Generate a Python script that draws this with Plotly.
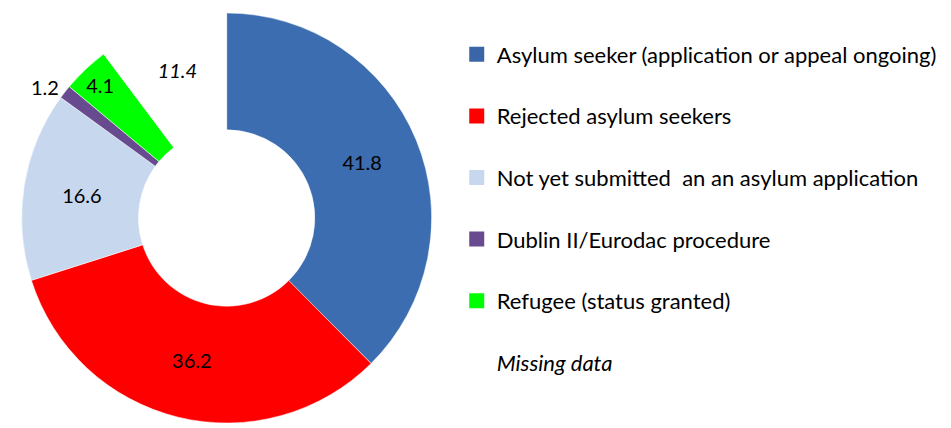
import plotly.graph_objects as go

# --- DATA ---
categories = [
    "Asylum seeker (application or appeal ongoing)",
    "Rejected asylum seekers",
    "Not yet submitted  an an asylum application",
    "Dublin II/Eurodac procedure",
    "Refugee (status granted)",
    "Missing data",
]
values = [41.8, 36.2, 16.6, 1.2, 4.1, 11.4]
slice_labels = ["41.8", "36.2", "16.6", "1.2", "4.1", "<i>11.4</i>"]

colors = ["#3b6db0", "#ff0000", "#c6d7ee", "#684b8e", "#00ff00", "rgba(0,0,0,0)"]
legend_colors = ["#3a66a8", "#ff0000", "#c6d7ee", "#684b8e", "#00ff00", "rgba(0,0,0,0)"]
text_pos = ["inside", "inside", "inside", "outside", "inside", "inside"]

FONT = "Lato"

# page body has an 8px margin, so the figure is sized to fit inside the window
W, H = 943, 420

fig = go.Figure()

fig.add_trace(go.Pie(
    labels=categories,
    values=values,
    text=slice_labels,
    textinfo="text",
    textposition=text_pos,
    insidetextorientation="horizontal",
    hole=0.43,
    sort=False,
    direction="clockwise",
    rotation=0,
    marker=dict(colors=colors, line=dict(color="white", width=0.5)),
    textfont=dict(family=FONT, size=20, color="black"),
    insidetextfont=dict(family=FONT, size=20, color="black"),
    outsidetextfont=dict(family=FONT, size=20, color="black"),
    domain=dict(x=[4 / W, 424 / W], y=[0.0, 1.0]),
    showlegend=False,
    hoverinfo="label+value",
))

# legend entries (one group each so the rows can be spaced out)
for i, (name, col) in enumerate(zip(categories, legend_colors)):
    label = f"<i>{name}</i>" if name == "Missing data" else name
    fig.add_trace(go.Scatter(
        x=[None], y=[None],
        mode="markers",
        marker=dict(symbol="square", size=15, color=col),
        name=label,
        legendgroup=f"g{i}",
        showlegend=True,
    ))

fig.update_layout(
    width=W,
    height=H,
    margin=dict(l=0, r=0, t=0, b=0),
    paper_bgcolor="white",
    plot_bgcolor="white",
    font=dict(family=FONT, size=22, color="black"),
    xaxis=dict(visible=False),
    yaxis=dict(visible=False),
    legend=dict(
        x=0.4725, y=0.950, xanchor="left", yanchor="top",
        font=dict(family=FONT, size=22, color="black"),
        tracegroupgap=30,
        itemclick=False,
        bgcolor="rgba(0,0,0,0)",
    ),
)

fig.write_html("out.html")
